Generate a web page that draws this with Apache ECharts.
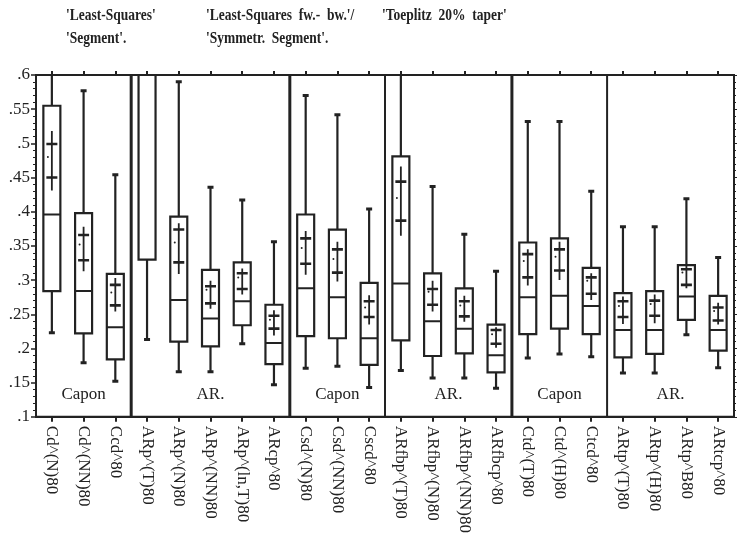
<!DOCTYPE html>
<html><head><meta charset="utf-8">
<script src="https://cdn.jsdelivr.net/npm/echarts@6/dist/echarts.min.js"></script>
<style>html,body{margin:0;padding:0;background:#fff}#c{width:737px;height:536px}</style>
</head><body><div id="c"></div>
<script>
const categories = ['Cd^(N)80','Cd^(NN)80','Ccd^80','ARp^(T)80','ARp^(N)80','ARp^(NN)80','ARp^(ln,T)80','ARcp^80',
  'Csd^(N)80','Csd^(NN)80','Cscd^80','ARfbp^(T)80','ARfbp^(N)80','ARfbp^(NN)80','ARfbcp^80',
  'Ctd^(T)80','Ctd^(H)80','Ctcd^80','ARtp^(T)80','ARtp^(H)80','ARtp^B80','ARtcp^80'];
const whiskerLow  = [.223,.179,.152,.213,.166,.166,.207,.147,.171,.174,.143,.168,.157,.157,.142,.186,.192,.188,.164,.164,.220,.172];
const q1          = [.284,.222,.184,.330,.210,.203,.234,.177,.218,.215,.176,.212,.189,.193,.165,.221,.229,.221,.187,.192,.242,.197];
const median      = [.396,.284,.231,.680,.271,.244,.269,.208,.288,.275,.215,.295,.240,.229,.190,.275,.277,.262,.227,.227,.276,.227];
const q3          = [.555,.398,.309,.850,.393,.315,.326,.264,.396,.374,.296,.481,.310,.288,.235,.355,.361,.318,.281,.284,.322,.277];
const whiskerHigh = [.650,.577,.454,1.00,.590,.436,.417,.356,.570,.542,.404,.650,.437,.367,.313,.532,.532,.430,.378,.378,.419,.333];
const ciLow       = [.431,.313,.254,.620,.309,.258,.279,.219,.308,.298,.235,.365,.254,.239,.201,.292,.300,.271,.236,.237,.288,.235];
const ciHigh      = [.518,.378,.303,.780,.383,.299,.317,.256,.372,.356,.278,.466,.299,.277,.231,.345,.356,.310,.276,.279,.321,.267];
const crossLow    = [.450,.329,.263,.650,.326,.266,.287,.229,.324,.311,.246,.387,.264,.247,.207,.304,.314,.280,.246,.248,.293,.241];
const crossHigh   = [.499,.366,.293,.750,.374,.291,.310,.248,.361,.345,.269,.444,.287,.269,.227,.338,.345,.304,.269,.270,.316,.260];
const meanDot     = [.480,.352,.282,.700,.355,.286,.304,.242,.347,.331,.260,.420,.283,.263,.221,.328,.334,.299,.262,.265,.311,.255];
const yTicks = [.1,.15,.2,.25,.3,.35,.4,.45,.5,.55,.6];
const groupNames = ['Capon','AR.','Capon','AR.','Capon','AR.'];
const groupStart = [0,3,8,11,15,18];
const groupEnd   = [2,7,10,14,17,21];
const separatorAfter = [2,7,10,14,17];
const separatorHeavy = [true,true,false,true,false];
const titlesLine1 = ["'Least-Squares'", "'Least-Squares  fw.-  bw.'/", "'Toeplitz  20%  taper'"];
const titlesLine2 = ["'Segment'.", "'Symmetr.  Segment'.", ""];

const INK = '#222';
const SERIF = '"Liberation Serif","Times New Roman",serif';

const boxData = categories.map((c,i)=>[i, whiskerLow[i], q1[i], median[i], q3[i], whiskerHigh[i], ciLow[i], ciHigh[i], crossLow[i], crossHigh[i], meanDot[i]]);

function renderBox(params, api){
  const i = api.value(0);
  const x = api.coord([i, 0.1])[0];
  const cs = params.coordSys;
  const top = cs.y, bottom = cs.y + cs.height;
  const Y = v => Math.max(top, Math.min(bottom, api.coord([i, v])[1]));
  const inside = v => { const y = api.coord([i, v])[1]; return y >= top - 0.5 && y <= bottom + 0.5; };
  const hw = 8.5, cw = 3, aw = 5.5;
  const ch = [];
  const line = (x1,y1,x2,y2,w) => ch.push({type:'line', shape:{x1,y1,x2,y2}, style:{stroke:INK, lineWidth:w}});
  const lo=api.value(1), a=api.value(2), md=api.value(3), b=api.value(4), hi=api.value(5);
  line(x, Y(lo), x, Y(a), 2.2);
  line(x, Y(b), x, Y(hi), 2.2);
  if (inside(lo)) line(x-cw, Y(lo), x+cw, Y(lo), 3);
  if (inside(hi)) line(x-cw, Y(hi), x+cw, Y(hi), 3);
  ch.push({type:'rect', shape:{x:x-hw, y:Y(b), width:2*hw, height:Y(a)-Y(b)}, style:{fill:'#fff', stroke:INK, lineWidth:2.2}});
  if (inside(md)) line(x-hw, Y(md), x+hw, Y(md), 2);
  const cl=api.value(6), chh=api.value(7), xl=api.value(8), xh=api.value(9), mn=api.value(10);
  if (inside(chh) || inside(cl)) line(x, Y(cl), x, Y(chh), 1.8);
  if (inside(xl)) line(x-aw, Y(xl), x+aw, Y(xl), 2.6);
  if (inside(xh)) line(x-aw, Y(xh), x+aw, Y(xh), 2.6);
  if (inside(mn)) ch.push({type:'circle', shape:{cx:x-4, cy:Y(mn), r:1}, style:{fill:INK}});
  return {type:'group', children: ch};
}

function renderSeparator(params, api){
  const i = api.value(0);
  const heavy = api.value(1);
  const cs = params.coordSys;
  const x = api.coord([i, 0.1])[0] + api.size([1, 0])[0] / 2;
  return {type:'line', shape:{x1:x, y1:cs.y, x2:x, y2:cs.y+cs.height}, style:{stroke:INK, lineWidth: heavy ? 3 : 2}};
}

function renderGroupLabel(params, api){
  const s = api.value(0), e = api.value(1);
  const cs = params.coordSys;
  const x = (api.coord([s, 0.1])[0] + api.coord([e, 0.1])[0]) / 2;
  return {type:'text', x: x, y: cs.y + cs.height - 22, style:{text: groupNames[params.dataIndex], fill: INK, font: '17px ' + SERIF, align:'center', verticalAlign:'middle'}};
}

const chart = echarts.init(document.getElementById('c'), null, {renderer:'canvas'});
const titleX = [66, 206, 382];
const graphics = [];
titlesLine1.forEach((t,k)=>{
  graphics.push({type:'text', x: titleX[k], y: 7, scaleY: 1.2, style:{text:t, font:'bold 13.5px '+SERIF, fill:INK}});
  if (titlesLine2[k]) graphics.push({type:'text', x: titleX[k], y: 30, scaleY: 1.2, style:{text:titlesLine2[k], font:'bold 13.5px '+SERIF, fill:INK}});
});

chart.setOption({
  animation:false,
  backgroundColor:'#fff',
  grid:{left:36, top:75, right:3, bottom:116, show:true, borderColor:INK, borderWidth:2, backgroundColor:'transparent'},
  graphic: graphics,
  xAxis:[{
    type:'category', data:categories, position:'bottom',
    axisLine:{show:true, lineStyle:{color:INK, width:2}},
    axisTick:{show:true, interval:0, alignWithLabel:true, length:5, lineStyle:{color:INK, width:2}},
    axisLabel:{interval:0, rotate:-90, margin:9, color:INK, fontFamily:SERIF, fontSize:17},
    splitLine:{show:false}
  },{
    type:'category', data:categories, position:'top',
    axisLine:{show:true, lineStyle:{color:INK, width:2}},
    axisTick:{show:true, interval:0, alignWithLabel:true, length:4, lineStyle:{color:INK, width:2}},
    axisLabel:{show:true, interval:0, formatter: () => ''}, splitLine:{show:false}
  }],
  yAxis:[{
    type:'value', min:0.1, max:0.6, interval:0.05, position:'left',
    axisLine:{show:true, lineStyle:{color:INK, width:2}},
    axisTick:{show:true, length:5, lineStyle:{color:INK, width:1.5}},
    minorTick:{show:true, splitNumber:5, length:3, lineStyle:{color:INK, width:1}},
    axisLabel:{margin:6, color:INK, fontFamily:SERIF, fontSize:17,
      formatter: v => { let s = (Math.round(v*100)/100).toFixed(2).replace(/^0/,''); return s.replace(/0$/,''); }},
    splitLine:{show:false}
  },{
    type:'value', min:0.1, max:0.6, interval:0.05, position:'right',
    axisLine:{show:true, lineStyle:{color:INK, width:2}},
    axisTick:{show:true, length:3, lineStyle:{color:INK, width:1}},
    minorTick:{show:true, splitNumber:5, length:2, lineStyle:{color:INK, width:1}},
    axisLabel:{show:false}, splitLine:{show:false}
  }],
  series:[
    {type:'custom', name:'sep', xAxisIndex:0, yAxisIndex:0, renderItem: renderSeparator,
      data: separatorAfter.map((v,k)=>[v, separatorHeavy[k]?1:0]), encode:{x:0}, silent:true},
    {type:'custom', name:'groups', xAxisIndex:0, yAxisIndex:0, renderItem: renderGroupLabel,
      data: groupStart.map((s,k)=>[s, groupEnd[k]]), encode:{x:[0,1]}, silent:true},
    {type:'custom', name:'boxes', xAxisIndex:0, yAxisIndex:0, renderItem: renderBox, clip:true,
      data: boxData, encode:{x:0, y:[1,2,3,4,5]}}
  ]
});
</script></body></html>
